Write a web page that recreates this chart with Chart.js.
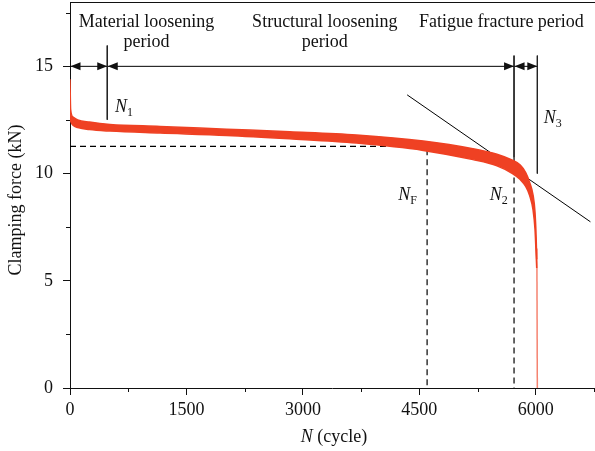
<!DOCTYPE html>
<html>
<head>
<meta charset="utf-8">
<script src="https://cdn.jsdelivr.net/npm/chart.js@4.4.1/dist/chart.umd.min.js"></script>
<style>
  html, body { margin: 0; padding: 0; background: #fff; }
  #wrap { width: 595px; height: 451px; }
</style>
</head>
<body>
<div id="wrap"><canvas id="chart"></canvas></div>
<script>
// ===== DATA =====
const cycles     = [0, 8, 40, 100, 250, 515, 1160, 2020, 2830, 3690, 4550, 5190, 5500, 5700, 5800, 5870, 5920, 5965, 5990, 6005, 6012];
const upperForce = [14.4, 13.0, 12.63, 12.5, 12.4, 12.29, 12.2, 12.07, 11.95, 11.8, 11.52, 11.16, 10.9, 10.62, 10.4, 10.05, 9.6, 9.0, 8.2, 7.0, 6.0];
const lowerForce = [12.6, 12.45, 12.25, 12.15, 12.05, 11.98, 11.89, 11.78, 11.62, 11.42, 11.08, 10.65, 10.36, 10.0, 9.72, 9.4, 8.99, 8.3, 7.4, 6.2, 5.6];
const tailCycles = [6014, 6020];
const tailForce  = [6.5, 0];

const xTicks = [0, 1500, 3000, 4500, 6000];
const yTicks = [0, 5, 10, 15];
const xMinorStep = 750;
const yMinorStep = 2.5;

const n1 = 480, nF = 4600, n2 = 5720, n3 = 6020;
const forceF = 11.27;
const periodForce = 15;
const tangentX = [4343, 6704];
const tangentY = [13.67, 7.75];

const RED = "#EF4123";
const FONT = "'Liberation Serif', 'Times New Roman', serif";

function pts(xs, ys) {
  return xs.map((x, i) => ({ x: x, y: ys[i] }));
}

function lineSet(data, opts) {
  return Object.assign({
    data: data,
    borderColor: "#000",
    borderWidth: 1,
    pointRadius: 0,
    fill: false,
    tension: 0
  }, opts || {});
}

// ===== ANNOTATIONS (arrows, minor ticks, texts) =====
const annotations = {
  id: "annotations",
  afterDraw(chart) {
    const ctx = chart.ctx;
    const xs = chart.scales.x;
    const ys = chart.scales.y;
    const X = (v) => xs.getPixelForValue(v);
    const Y = (v) => ys.getPixelForValue(v);

    ctx.save();
    ctx.strokeStyle = "#111";
    ctx.fillStyle = "#111";
    ctx.lineWidth = 1;

    // top frame
    ctx.fillRect(xs.left, Math.round(ys.top), xs.right - xs.left + 1, 1);

    // minor ticks
    ctx.beginPath();
    for (let v = xMinorStep; v <= xs.max + 1; v += xMinorStep * 2) {
      const px = Math.round(X(v)) + 0.5;
      ctx.moveTo(px, ys.bottom);
      ctx.lineTo(px, ys.bottom + 4);
    }
    for (let v = yMinorStep; v <= ys.max; v += yMinorStep * 2) {
      const py = Math.round(Y(v)) + 0.5;
      ctx.moveTo(xs.left, py);
      ctx.lineTo(xs.left - 4, py);
    }
    ctx.stroke();

    // period arrows
    const bounds = [0, n1, n2, n3];
    const py = Y(periodForce);
    function arrow(tipX, dir) {
      ctx.beginPath();
      ctx.moveTo(tipX, py);
      ctx.lineTo(tipX - dir * 10, py - 4);
      ctx.lineTo(tipX - dir * 10, py + 4);
      ctx.closePath();
      ctx.fill();
    }
    for (let i = 0; i < bounds.length - 1; i++) {
      arrow(X(bounds[i]) + 0.5, -1);
      arrow(X(bounds[i + 1]), 1);
    }

    // period texts
    ctx.font = "18px " + FONT;
    ctx.textAlign = "center";
    ctx.textBaseline = "alphabetic";
    ctx.fillText("Material loosening", X(986), 27);
    ctx.fillText("period", X(986), 47);
    ctx.fillText("Structural loosening", X(3283), 27);
    ctx.fillText("period", X(3283), 47);
    ctx.fillText("Fatigue fracture period", X(5557), 27);

    // N labels
    function nLabel(sub, xv, yv) {
      ctx.textAlign = "left";
      ctx.font = "italic 18px " + FONT;
      const x0 = X(xv), y0 = Y(yv);
      ctx.fillText("N", x0, y0);
      const w = ctx.measureText("N").width;
      ctx.font = "12px " + FONT;
      ctx.fillText(sub, x0 + w, y0 + 4);
    }
    nLabel("1", 579, 12.87);
    nLabel("F", 4227, 8.76);
    nLabel("2", 5407, 8.76);
    nLabel("3", 6103, 12.34);

    // axis titles
    ctx.font = "18px " + FONT;
    ctx.textBaseline = "middle";
    ctx.textAlign = "center";
    ctx.save();
    ctx.translate(16, 200);
    ctx.rotate(-Math.PI / 2);
    ctx.fillText("Clamping force (kN)", 0, 0);
    ctx.restore();

    ctx.font = "italic 18px " + FONT;
    const wN = ctx.measureText("N").width;
    ctx.font = "18px " + FONT;
    const wRest = ctx.measureText(" (cycle)").width;
    const startX = 334 - (wN + wRest) / 2;
    ctx.textAlign = "left";
    ctx.font = "italic 18px " + FONT;
    ctx.fillText("N", startX, 437);
    ctx.font = "18px " + FONT;
    ctx.fillText(" (cycle)", startX + wN, 437);

    ctx.restore();
  }
};

function plainTick(v) {
  return String(v);
}

// ===== CHART =====
const ctx = document.getElementById("chart").getContext("2d");
new Chart(ctx, {
  type: "line",
  data: {
    datasets: [
      lineSet(pts(cycles, lowerForce), { borderColor: RED, borderWidth: 1.5, cubicInterpolationMode: "monotone" }),
      lineSet(pts(cycles, upperForce), { borderColor: RED, borderWidth: 1.5, cubicInterpolationMode: "monotone", fill: "-1", backgroundColor: RED }),
      lineSet(pts(tailCycles, tailForce), { borderColor: "rgba(239,65,35,0.65)", borderWidth: 1.5 }),
      lineSet(pts([0, nF, nF], [forceF, forceF, 0]), { borderDash: [6, 4], borderWidth: 1.2 }),
      lineSet(pts([n2, n2], [10.75, 0]), { borderDash: [6, 4], borderWidth: 1.2 }),
      lineSet(pts([n2, n2], [15.5, 10.75]), { borderColor: "#222" }),
      lineSet(pts([n1, n1], [15.97, 12.51]), { borderColor: "#222" }),
      lineSet(pts([n3, n3], [15.5, 10.0]), { borderColor: "#222" }),
      lineSet(pts([0, n3], [periodForce, periodForce])),
      lineSet(pts(tangentX, tangentY))
    ]
  },
  options: {
    responsive: true,
    maintainAspectRatio: false,
    animation: false,
    layout: { padding: { top: 2, right: 1, left: 0, bottom: 0 } },
    plugins: {
      legend: { display: false },
      tooltip: { enabled: false }
    },
    scales: {
      x: {
        type: "linear",
        min: 0,
        max: 6750,
        afterBuildTicks: (s) => { s.ticks = xTicks.map((v) => ({ value: v })); },
        afterFit: (s) => { s.height = 63; s.paddingLeft = 0; s.paddingRight = 0; },
        ticks: { callback: plainTick, color: "#111", font: { family: FONT, size: 18 }, padding: 4, maxRotation: 0, autoSkip: false },
        grid: { drawOnChartArea: false, drawTicks: true, tickLength: 7, tickColor: "#111" },
        border: { display: true, color: "#111", width: 1 }
      },
      y: {
        type: "linear",
        min: 0,
        max: 18,
        afterBuildTicks: (s) => { s.ticks = yTicks.map((v) => ({ value: v })); },
        afterFit: (s) => { s.width = 70; s.paddingTop = 0; s.paddingBottom = 0; },
        ticks: { callback: plainTick, color: "#111", font: { family: FONT, size: 18 }, padding: 10 },
        grid: { drawOnChartArea: false, drawTicks: true, tickLength: 7, tickColor: "#111" },
        border: { display: true, color: "#111", width: 1 }
      }
    }
  },
  plugins: [annotations]
});
</script>
</body>
</html>
